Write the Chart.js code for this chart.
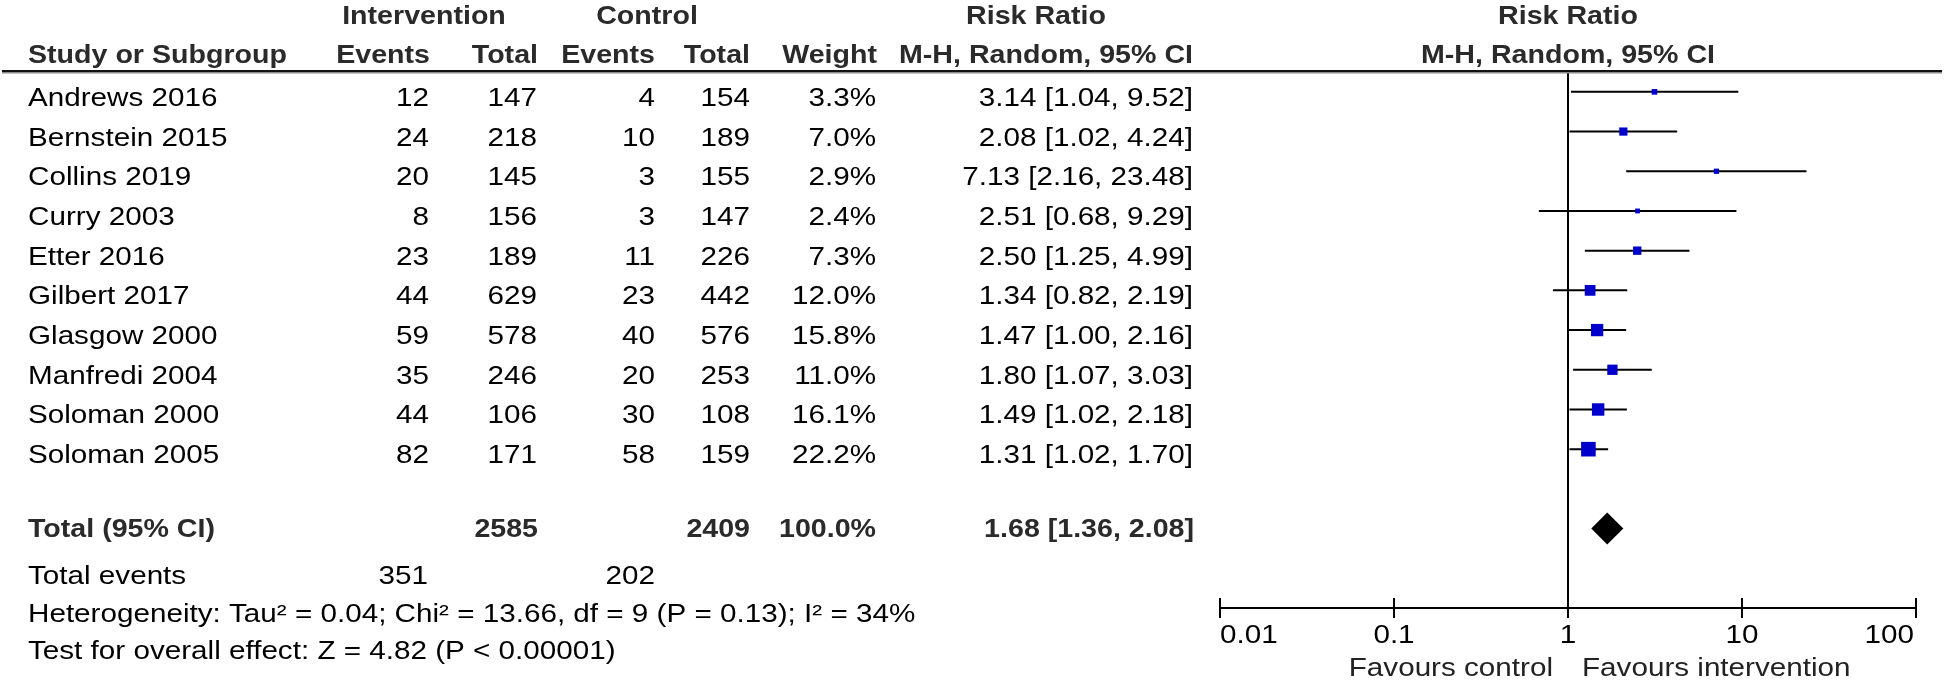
<!DOCTYPE html>
<html><head><meta charset="utf-8">
<script src="https://cdn.jsdelivr.net/npm/chart.js@4.4.1/dist/chart.umd.min.js"></script>
<style>html,body{margin:0;padding:0;background:#fff;overflow:hidden}canvas{display:block}</style>
</head><body>
<canvas id="c" width="1944" height="682"></canvas>
<script>
// ---- data ----
const studies = ["Andrews 2016","Bernstein 2015","Collins 2019","Curry 2003","Etter 2016","Gilbert 2017","Glasgow 2000","Manfredi 2004","Soloman 2000","Soloman 2005"];
const intEvents = [12,24,20,8,23,44,59,35,44,82];
const intTotal = [147,218,145,156,189,629,578,246,106,171];
const ctrlEvents = [4,10,3,3,11,23,40,20,30,58];
const ctrlTotal = [154,189,155,147,226,442,576,253,108,159];
const weights = [3.3,7.0,2.9,2.4,7.3,12.0,15.8,11.0,16.1,22.2];
const rr = [3.14,2.08,7.13,2.51,2.50,1.34,1.47,1.80,1.49,1.31];
const ciLow = [1.04,1.02,2.16,0.68,1.25,0.82,1.00,1.07,1.02,1.02];
const ciHigh = [9.52,4.24,23.48,9.29,4.99,2.19,2.16,3.03,2.18,1.70];
const pooled = [1.68, 1.36, 2.08];          // estimate, low, high
const totals = [2585, 2409];                 // intervention total, control total
const totalEvents = [351, 202];
const axisTicks = [0.01, 0.1, 1, 10, 100];
const axisTickLabels = ["0.01","0.1","1","10","100"];
const favourLabels = ["Favours control","Favours intervention"];
const heterogeneityText = "Heterogeneity: Tau\u00B2 = 0.04; Chi\u00B2 = 13.66, df = 9 (P = 0.13); I\u00B2 = 34%";
const overallText = "Test for overall effect: Z = 4.82 (P < 0.00001)";
const pooledRow = 11;

const FONT_FAMILY = '"Liberation Sans", Arial, sans-serif';
function fmt2(v){ return v.toFixed(2); }
function ciText(i){ return fmt2(rr[i]) + " [" + fmt2(ciLow[i]) + ", " + fmt2(ciHigh[i]) + "]"; }

function txt(ctx, s, x, y, align, bold, color){
  ctx.save();
  ctx.font = (bold ? 'bold ' : '') + '26px ' + FONT_FAMILY;
  ctx.fillStyle = color || (bold ? '#2a2a2a' : '#000');
  ctx.textBaseline = 'alphabetic';
  ctx.textAlign = 'left';
  const sx = bold ? 1.10 : 1.14;
  const w = ctx.measureText(s).width * sx;
  let left = x;
  if (align === 'right') left = x - w;
  else if (align === 'center') left = x - w / 2;
  ctx.translate(left, y);
  ctx.scale(sx, 1);
  ctx.fillText(s, 0, 0);
  ctx.restore();
}

const tablePlugin = {
  id: 'tablePlugin',
  afterDatasetsDraw(chart){
    const ctx = chart.ctx;
    const xs = chart.scales.x, ys = chart.scales.y;
    // pooled diamond
    const yc = ys.getPixelForValue(pooledRow);
    const half = 16;
    ctx.save();
    ctx.fillStyle = '#000';
    ctx.beginPath();
    ctx.moveTo(xs.getPixelForValue(pooled[1]), yc);
    ctx.lineTo(xs.getPixelForValue(pooled[0]), yc - half);
    ctx.lineTo(xs.getPixelForValue(pooled[2]), yc);
    ctx.lineTo(xs.getPixelForValue(pooled[0]), yc + half);
    ctx.closePath();
    ctx.fill();
    ctx.restore();
  },
  afterDraw(chart){
    const ctx = chart.ctx;
    const xs = chart.scales.x, ys = chart.scales.y;
    const area = chart.chartArea;
    // header rule
    ctx.save();
    ctx.fillStyle = '#111';
    ctx.fillRect(2, 70, 1940, 2);
    ctx.fillStyle = '#8a8a8a';
    ctx.fillRect(2, 72, 1940, 1.5);
    ctx.restore();
    // headers
    txt(ctx, 'Intervention', 424, 24, 'center', true);
    txt(ctx, 'Control', 647, 24, 'center', true);
    txt(ctx, 'Risk Ratio', 1036, 24, 'center', true);
    txt(ctx, 'Risk Ratio', 1568, 24, 'center', true);
    txt(ctx, 'Study or Subgroup', 28, 63, 'left', true);
    txt(ctx, 'Events', 430, 63, 'right', true);
    txt(ctx, 'Total', 538, 63, 'right', true);
    txt(ctx, 'Events', 655, 63, 'right', true);
    txt(ctx, 'Total', 750, 63, 'right', true);
    txt(ctx, 'Weight', 877, 63, 'right', true);
    txt(ctx, 'M-H, Random, 95% CI', 1193, 63, 'right', true);
    txt(ctx, 'M-H, Random, 95% CI', 1568, 63, 'center', true);
    // rows
    for (let i = 0; i < studies.length; i++){
      const y = ys.getPixelForValue(i) + 14;
      txt(ctx, studies[i], 28, y, 'left', false);
      txt(ctx, String(intEvents[i]), 429, y, 'right', false);
      txt(ctx, String(intTotal[i]), 537, y, 'right', false);
      txt(ctx, String(ctrlEvents[i]), 655, y, 'right', false);
      txt(ctx, String(ctrlTotal[i]), 750, y, 'right', false);
      txt(ctx, weights[i].toFixed(1) + '%', 876, y, 'right', false);
      txt(ctx, ciText(i), 1193, y, 'right', false);
    }
    // totals
    const yt = 537;
    txt(ctx, 'Total (95% CI)', 28, yt, 'left', true);
    txt(ctx, String(totals[0]), 538, yt, 'right', true);
    txt(ctx, String(totals[1]), 750, yt, 'right', true);
    txt(ctx, '100.0%', 876, yt, 'right', true);
    txt(ctx, fmt2(pooled[0]) + ' [' + fmt2(pooled[1]) + ', ' + fmt2(pooled[2]) + ']', 1194, yt, 'right', true);
    txt(ctx, 'Total events', 28, 584, 'left', false);
    txt(ctx, String(totalEvents[0]), 428, 584, 'right', false);
    txt(ctx, String(totalEvents[1]), 655, 584, 'right', false);
    txt(ctx, heterogeneityText, 28, 622, 'left', false);
    txt(ctx, overallText, 28, 659, 'left', false);
    // x axis
    const ay = area.bottom;
    ctx.save();
    ctx.strokeStyle = '#000';
    ctx.lineWidth = 2;
    ctx.beginPath();
    ctx.moveTo(xs.getPixelForValue(axisTicks[0]), ay);
    ctx.lineTo(xs.getPixelForValue(axisTicks[axisTicks.length - 1]), ay);
    for (const t of axisTicks){
      const px = xs.getPixelForValue(t);
      ctx.moveTo(px, ay - 10);
      ctx.lineTo(px, ay + 10);
    }
    ctx.stroke();
    ctx.restore();
    axisTicks.forEach((t, k) => {
      const px = xs.getPixelForValue(t);
      const align = k === 0 ? 'left' : (k === axisTicks.length - 1 ? 'right' : 'center');
      txt(ctx, axisTickLabels[k], align === 'right' ? px - 2 : px, 643, align, false);
    });
    const one = xs.getPixelForValue(1);
    txt(ctx, favourLabels[0], one - 15, 676, 'right', false, '#222');
    txt(ctx, favourLabels[1], one + 14, 676, 'left', false, '#222');
  }
};

const datasets = [];
datasets.push({
  type: 'scatter',
  data: rr.map((v, i) => ({x: v, y: i})),
  pointStyle: 'rect',
  pointRadius: weights.map(w => 3.1 * Math.sqrt(w) / Math.SQRT2),
  pointHoverRadius: weights.map(w => 3.1 * Math.sqrt(w) / Math.SQRT2),
  backgroundColor: '#0000cc',
  borderWidth: 0,
  clip: false
});
studies.forEach((s, i) => {
  datasets.push({
    type: 'line',
    data: [{x: ciLow[i], y: i}, {x: ciHigh[i], y: i}],
    borderColor: '#000',
    borderWidth: 2,
    pointRadius: 0,
    showLine: true,
    fill: false,
    clip: false
  });
});
datasets.push({
  type: 'line',
  data: [{x: 1, y: -0.5}, {x: 1, y: 13}],
  borderColor: '#000',
  borderWidth: 2,
  pointRadius: 0,
  showLine: true,
  fill: false,
  clip: false
});

new Chart(document.getElementById('c'), {
  type: 'scatter',
  data: { datasets },
  options: {
    responsive: false,
    devicePixelRatio: 1,
    animation: false,
    events: [],
    layout: { padding: { left: 1220, right: 28, top: 72, bottom: 74 } },
    plugins: { legend: { display: false }, tooltip: { enabled: false }, title: { display: false } },
    scales: {
      x: { type: 'logarithmic', min: 0.01, max: 100, display: false },
      y: { type: 'linear', min: -0.5, max: 13, reverse: true, display: false }
    }
  },
  plugins: [tablePlugin]
});
</script>
</body></html>
